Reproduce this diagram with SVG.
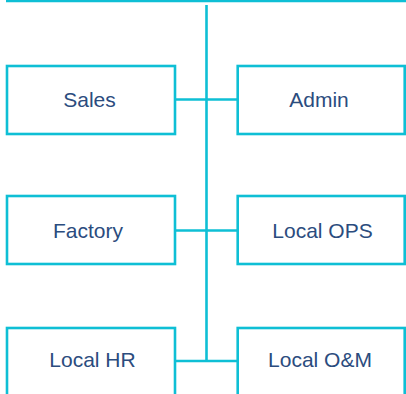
<svg xmlns="http://www.w3.org/2000/svg" width="406" height="394" viewBox="0 0 406 394">
<style>
.box{fill:#fff;stroke:#0EBFD5;stroke-width:2.6}
.ln{stroke:#0EBFD5;stroke-width:2.6;fill:none}
.t{font-family:"Liberation Sans",Arial,sans-serif;font-size:21px;fill:#2B4C7E;text-anchor:middle}
</style>
<rect width="406" height="394" fill="#fff"/>
<g id="connectors">
<line class="ln" x1="6" y1="1" x2="406" y2="1"/>
<line class="ln" x1="206.5" y1="5" x2="206.5" y2="362"/>
<line class="ln" x1="175" y1="99.5" x2="238" y2="99.5"/>
<line class="ln" x1="175" y1="230.5" x2="238" y2="230.5"/>
<line class="ln" x1="175" y1="361" x2="238" y2="361"/>
</g>
<g id="sales"><rect class="box" x="7" y="66" width="168" height="68"/><text class="t" x="89.5" y="106.5">Sales</text></g>
<g id="admin"><rect class="box" x="237.7" y="66" width="167" height="68"/><text class="t" x="319" y="106.5">Admin</text></g>
<g id="factory"><rect class="box" x="7" y="196" width="168" height="68"/><text class="t" x="88" y="237.5">Factory</text></g>
<g id="localops"><rect class="box" x="237.7" y="196" width="167" height="68"/><text class="t" x="322.5" y="237.5">Local OPS</text></g>
<g id="localhr"><rect class="box" x="7" y="328" width="168" height="80"/><text class="t" x="92.5" y="367">Local HR</text></g>
<g id="localom"><rect class="box" x="237.7" y="328" width="167" height="80"/><text class="t" x="320" y="367">Local O&amp;M</text></g>
</svg>
